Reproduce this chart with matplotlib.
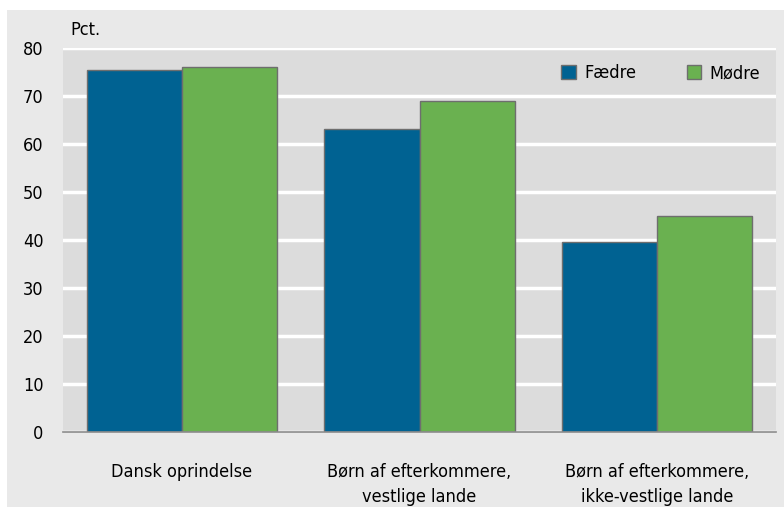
import numpy as np
import matplotlib.pyplot as plt
from matplotlib.patches import Rectangle

plt.rcParams['font.family'] = ['DejaVu Sans']
plt.rcParams['font.stretch'] = 'condensed'

categories = ["Dansk oprindelse", "Børn af efterkommere,\nvestlige lande",
              "Børn af efterkommere,\nikke-vestlige lande"]
faedre = [75.4, 63.2, 39.6]
moedre = [76.0, 69.0, 45.1]
yticks = [0, 10, 20, 30, 40, 50, 60, 70, 80]

W, H = 784, 507
fig = plt.figure(figsize=(W / 100, H / 100), dpi=100, facecolor='white')
# light grey panel behind the chart
fig.patches.append(Rectangle((7 / W, 0), 1 - 7 / W, 1 - 10 / H, transform=fig.transFigure,
                             facecolor='#e9e9e9', edgecolor='none', zorder=-5))

ax = fig.add_axes([63 / W, (H - 432) / H, (776 - 63) / W, (432 - 48) / H])
ax.set_facecolor('#dcdcdc')

x = np.arange(len(categories))
w = 0.4
ax.bar(x - w / 2, faedre, w, color='#006292', edgecolor='#6e6e6e', linewidth=1,
       label='Fædre', zorder=3)
ax.bar(x + w / 2, moedre, w, color='#6ab150', edgecolor='#6e6e6e', linewidth=1,
       label='Mødre', zorder=3)

ax.set_xlim(-0.5, 2.5)
ax.set_ylim(0, 80)
ax.set_yticks(yticks)
ax.yaxis.grid(True, color='white', linewidth=2.5, zorder=1)
ax.set_axisbelow(True)
for s in ['top', 'right', 'left']:
    ax.spines[s].set_visible(False)
ax.spines['bottom'].set_color('#8c8c8c')
ax.spines['bottom'].set_linewidth(1.2)
ax.spines['bottom'].set_zorder(4)

ax.set_xticks(x)
ax.set_xticklabels(categories, fontsize=13, linespacing=1.5)
ax.tick_params(axis='x', length=0, pad=22)
ax.tick_params(axis='y', length=0, pad=14, labelsize=13)

fig.text(70 / W, 1 - 30 / H, 'Pct.', fontsize=13, va='center', ha='left')

leg = ax.legend(loc='upper right', ncol=2, frameon=False, fontsize=13,
                bbox_to_anchor=(1.0, 1.0), handlelength=0.8, handleheight=0.8,
                columnspacing=2.8, handletextpad=0.45)
for p in leg.get_patches():
    p.set_edgecolor('#6e6e6e')

fig.savefig('out.png', dpi=100, facecolor=fig.get_facecolor())
